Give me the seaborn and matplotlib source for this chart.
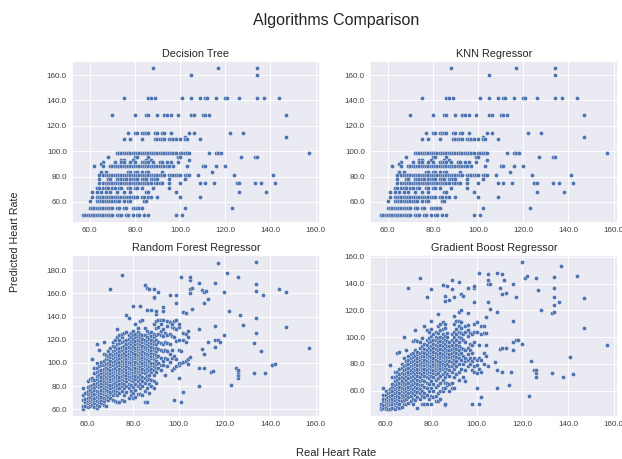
import pandas as pd
import seaborn as sns
import matplotlib
matplotlib.use('Agg')
import matplotlib.pyplot as plt
from matplotlib.ticker import FormatStrFormatter, MultipleLocator

# decision tree / KNN: predictions sit on fixed levels
dt_levels = [165.5, 160.3, 142.0, 128.5, 114.0, 111.3, 110.0, 98.7, 95.5, 93.0, 91.3, 90.0, 88.2,
             83.5, 81.3, 78.0, 74.7, 71.0, 68.0, 63.5, 60.5, 55.5, 49.5]
dt_real = [
    [88, 117, 134],
    [105, 134],
    [75, 86, 87, 89, 101, 105, 109, 111, 112, 116, 120, 121, 126, 134, 137, 144],
    [70, 80, 85, 86, 90, 93, 94, 96, 99, 105, 106, 110, 111, 113, 147],
    [77, 80, 81, 83, 84, 85, 86, 89, 90, 92, 93, 96, 104, 106, 122, 128],
    [102, 147],
    [75, 78, 83, 89, 90, 91, 92, 93, 95, 96, 97, 98, 100, 102, 103, 109],
    [72, 73, 74, 75, 76, 77, 78, 79, 80, 81, 82, 83, 84, 85, 86, 87, 88, 89, 90, 91, 92, 93, 94, 95, 96,
     97, 98, 100, 101, 102, 103, 104, 113, 116, 117, 118, 157],
    [68, 80, 81, 86, 99, 100, 127, 133, 134],
    [74, 75, 79, 85, 87, 104],
    [66, 71, 74, 75, 78, 80, 83, 84, 85, 86, 88, 91, 92, 94, 96, 99],
    [65],
    [62, 66, 69, 70, 71, 72, 73, 74, 75, 76, 77, 78, 79, 80, 81, 82, 83, 84, 85, 86, 87, 88, 89, 90, 91,
     92, 93, 94, 95, 97, 103, 110, 111, 116, 120],
    [65, 67, 77, 78, 80, 81, 83, 85, 86, 92, 114],
    [64, 66, 67, 68, 69, 70, 71, 72, 73, 74, 75, 76, 77, 78, 79, 80, 81, 82, 83, 84, 85, 86, 87, 88, 89,
     90, 91, 92, 93, 95, 96, 97, 98, 99, 100, 102, 103, 104, 108, 124, 141],
    [64, 68, 69, 72, 73, 74, 75, 76, 78, 79, 80, 81, 83, 84, 85, 87, 88, 89, 90, 95, 102],
    [64, 66, 67, 68, 69, 70, 71, 72, 73, 74, 75, 76, 77, 78, 79, 80, 81, 82, 83, 84, 85, 86, 87, 89, 90,
     91, 92, 95, 100, 109, 111, 115, 125, 126, 133, 136, 142],
    [63, 64, 66, 67, 68, 70, 71, 73, 74, 77, 78, 80, 81, 83, 88, 95],
    [61, 63, 65, 67, 69, 72, 75, 78, 85, 86, 98, 126, 138],
    [61, 63, 64, 65, 66, 67, 68, 69, 70, 71, 72, 73, 74, 75, 76, 77, 78, 79, 80, 81, 83, 84, 86, 87, 90,
     100, 109],
    [60, 63, 64, 65, 66, 67, 68, 69, 70, 71, 72, 73, 75, 77, 78, 84, 85],
    [60, 61, 62, 63, 64, 65, 66, 67, 68, 69, 70, 72, 73, 75, 76, 79, 80, 81, 82, 83, 102, 123],
    [57, 58, 59, 60, 61, 62, 63, 64, 65, 66, 67, 68, 69, 70, 72, 73, 74, 76, 77, 79, 81, 82, 84, 86, 98, 101],
]

# random forest, read per real heart rate
rf_real = [58, 59, 60, 61, 62, 63, 64, 65, 66, 67, 68, 69, 70, 71, 72, 73, 74, 75, 76, 77, 78, 79, 80, 81,
           82, 83, 84, 85, 86, 87, 88, 89, 90, 91, 92, 93, 94, 95, 96, 97, 98, 99, 100, 101, 102, 103, 104,
           105, 106, 109, 110, 111, 112, 113, 114, 115, 116, 117, 118, 120, 121, 122, 123, 125, 126, 127,
           128, 133, 134, 136, 137, 138, 141, 142, 144, 147, 157]
rf_pred = [
    [60, 63, 68, 72, 78],
    [63, 66, 69, 74],
    [62, 65, 67, 70, 73, 76, 79, 84],
    [63, 66, 68, 71, 74, 77, 80, 86],
    [64, 67, 69, 72, 75, 78, 81, 85, 87, 103],
    [62, 65, 68, 70, 73, 77, 79, 82, 85, 91, 96],
    [61, 64, 67, 71, 74, 76, 80, 83, 86, 89, 92, 96, 100, 116],
    [63, 66, 70, 72, 75, 79, 81, 84, 88, 90, 93, 97, 111],
    [65, 68, 71, 74, 77, 80, 83, 85, 88, 91, 94, 98, 101],
    [64, 67, 70, 73, 76, 78, 82, 84, 87, 90, 92, 95, 98, 102, 108, 118],
    [63, 69, 72, 75, 77, 80, 83, 86, 88, 91, 94, 96, 99, 103, 107],
    [68, 71, 74, 76, 79, 82, 84, 87, 90, 92, 95, 98, 100, 103, 106, 110],
    [70, 73, 75, 78, 81, 84, 86, 89, 91, 94, 97, 99, 102, 105, 108, 113, 164],
    [68, 72, 76, 79, 82, 85, 87, 90, 92, 95, 98, 101, 104, 107, 110, 115, 118],
    [67, 74, 77, 80, 83, 86, 88, 91, 93, 96, 99, 102, 105, 108, 111, 114, 120],
    [66, 72, 76, 78, 81, 84, 87, 90, 92, 94, 97, 100, 103, 106, 109, 112, 116, 122, 129],
    [66, 74, 78, 82, 85, 88, 91, 93, 95, 98, 101, 104, 107, 110, 113, 117, 120, 124],
    [68, 76, 80, 83, 86, 89, 92, 94, 97, 100, 102, 105, 108, 111, 114, 118, 122, 125, 176],
    [67, 72, 78, 82, 85, 88, 90, 93, 96, 98, 101, 103, 106, 109, 112, 115, 119, 126],
    [75, 80, 84, 87, 90, 92, 95, 97, 100, 102, 104, 107, 110, 113, 116, 120, 127, 141],
    [70, 78, 82, 86, 89, 91, 94, 96, 99, 101, 104, 106, 109, 111, 114, 117, 121, 124, 139],
    [72, 76, 81, 85, 88, 91, 93, 95, 98, 100, 103, 105, 108, 110, 113, 116, 119, 122, 126],
    [70, 74, 79, 84, 87, 90, 92, 95, 97, 99, 102, 104, 107, 109, 112, 115, 118, 121, 124, 128, 149],
    [71, 77, 82, 86, 89, 92, 94, 96, 99, 101, 104, 106, 108, 111, 113, 116, 119, 122, 125, 134],
    [73, 80, 84, 88, 91, 93, 96, 98, 100, 103, 105, 107, 110, 112, 115, 117, 120, 123, 127, 130],
    [73, 78, 82, 86, 90, 93, 95, 97, 100, 102, 104, 107, 109, 112, 114, 116, 119, 122, 125, 136, 149],
    [72, 80, 84, 88, 92, 95, 98, 100, 103, 105, 108, 110, 113, 115, 118, 121, 124, 137],
    [66, 76, 83, 87, 91, 94, 97, 99, 102, 104, 107, 109, 112, 114, 117, 120, 124, 130, 167],
    [66, 78, 85, 89, 93, 96, 98, 101, 103, 106, 108, 111, 113, 116, 119, 122, 128, 146, 165],
    [74, 82, 86, 90, 94, 97, 100, 102, 105, 107, 110, 112, 115, 118, 121, 126, 164],
    [80, 85, 92, 95, 98, 100, 104, 106, 109, 111, 114, 117, 120, 123, 127, 146],
    [78, 84, 90, 94, 97, 100, 103, 106, 108, 111, 113, 116, 119, 122, 125, 134, 156, 157, 164],
    [83, 92, 96, 99, 102, 105, 107, 110, 113, 116, 120, 124, 130, 136, 142, 145],
    [96, 100, 106, 112, 118, 125, 131, 137, 161],
    [94, 98, 104, 111, 117, 124, 128, 134, 137],
    [98, 102, 110, 116, 123, 129, 137, 145, 148],
    [90, 104, 111, 118, 126],
    [97, 103, 110, 117, 124, 132, 136],
    [101, 108, 116, 125, 135, 159],
    [94, 104, 111, 123, 131, 134],
    [96, 106, 122, 130, 136, 68],
    [97, 103, 119, 129, 137, 152, 159],
    [87, 98, 100, 111, 120, 131, 134],
    [66, 100, 110, 174],
    [75, 101, 120, 126, 144],
    [102, 118, 125, 143],
    [99, 103, 122, 128],
    [105, 160, 164, 172, 174],
    [147, 165],
    [80, 96, 129, 169],
    [112, 163],
    [96, 108, 152, 161],
    [162],
    [118, 155],
    [92],
    [93],
    [114, 120, 132, 169],
    [120, 186],
    [118],
    [124, 161],
    [178],
    [145],
    [81],
    [96],
    [87, 90, 92, 94, 174],
    [141],
    [133],
    [91, 117],
    [126, 139, 162, 168, 187],
    [110],
    [159],
    [91],
    [98],
    [99],
    [164],
    [131, 161],
    [113],
]

# gradient boost, read the same way
gb_real = [58, 59, 60, 61, 62, 63, 64, 65, 66, 67, 68, 69, 70, 71, 72, 73, 74, 75, 76, 77, 78, 79, 80, 81,
           82, 83, 84, 85, 86, 87, 88, 89, 90, 91, 92, 93, 94, 95, 96, 97, 98, 99, 100, 101, 102, 103, 104,
           105, 106, 108, 109, 110, 111, 112, 113, 114, 115, 116, 117, 118, 120, 121, 122, 123, 124, 125, 126,
           127, 128, 133, 134, 136, 137, 138, 141, 142, 144, 147, 157]
gb_pred = [
    [46, 48, 50],
    [47, 49, 52, 54, 57, 62],
    [46, 48, 50, 52, 54, 57, 60],
    [46, 49, 51, 53, 55, 58],
    [46, 49, 50, 52, 54, 56, 59, 61, 79],
    [47, 50, 52, 54, 57, 60, 63, 65, 70],
    [46, 49, 51, 53, 55, 58, 61, 64, 67, 70, 74],
    [48, 51, 54, 56, 59, 62, 65, 68, 71, 74, 88],
    [47, 50, 53, 55, 58, 61, 63, 66, 69, 72, 76, 89],
    [48, 52, 55, 57, 60, 62, 65, 67, 70, 73, 77, 80],
    [50, 53, 56, 59, 61, 64, 66, 69, 72, 75, 78, 84, 100],
    [50, 54, 57, 60, 62, 65, 68, 71, 73, 76, 79, 82, 90],
    [51, 55, 58, 61, 63, 66, 69, 72, 74, 77, 80, 83, 86, 137],
    [52, 56, 59, 62, 64, 67, 70, 73, 75, 78, 81, 84, 87],
    [50, 54, 58, 61, 65, 68, 71, 74, 77, 79, 82, 85, 88, 97],
    [53, 57, 60, 63, 66, 69, 72, 75, 78, 80, 83, 86, 90, 98, 105],
    [47, 55, 59, 62, 65, 68, 71, 74, 76, 79, 82, 84, 87, 89, 97],
    [54, 58, 61, 64, 67, 70, 73, 76, 78, 80, 83, 85, 88, 92, 96, 144],
    [50, 56, 60, 64, 68, 72, 75, 77, 79, 81, 84, 86, 89, 93, 99],
    [50, 55, 58, 63, 67, 71, 74, 76, 79, 81, 83, 86, 88, 91, 95, 108],
    [50, 57, 62, 66, 70, 73, 75, 78, 80, 82, 85, 87, 90, 94, 98, 105, 130],
    [54, 60, 65, 69, 72, 74, 77, 79, 81, 84, 86, 89, 92, 96, 99, 104],
    [50, 56, 62, 67, 71, 74, 76, 78, 81, 83, 85, 88, 90, 93, 97, 101, 106, 112, 136],
    [55, 60, 65, 70, 73, 75, 78, 80, 82, 84, 87, 89, 92, 95, 98, 102],
    [52, 56, 63, 68, 72, 75, 77, 79, 81, 83, 86, 88, 91, 94, 98, 100, 104],
    [52, 58, 64, 69, 73, 76, 78, 80, 82, 85, 87, 90, 93, 96, 99, 103, 108, 117],
    [54, 60, 66, 71, 75, 77, 79, 81, 84, 86, 88, 91, 94, 97, 100, 105, 110],
    [60, 62, 68, 72, 76, 78, 80, 83, 85, 87, 90, 93, 96, 99, 102, 106, 111, 139],
    [49, 50, 62, 66, 70, 74, 77, 79, 82, 84, 86, 89, 92, 95, 98, 101, 107, 110, 127, 131],
    [64, 66, 72, 76, 80, 83, 85, 88, 90, 93, 97, 100, 103, 138],
    [60, 65, 71, 75, 78, 82, 85, 87, 90, 93, 96, 128],
    [62, 66, 74, 78, 81, 84, 86, 88, 91, 94, 98, 102, 136, 143],
    [62, 70, 76, 80, 83, 86, 89, 92, 96, 100, 104, 110, 116, 130],
    [72, 78, 82, 85, 88, 91, 94, 98, 102, 106, 112],
    [68, 74, 80, 84, 87, 90, 93, 96, 100, 104, 108, 112, 119, 141],
    [76, 83, 88, 92, 99, 103, 107, 111, 120, 132],
    [70, 80, 86, 91, 98, 102, 131],
    [67, 75, 82, 84, 90, 96, 104, 108],
    [78, 83, 87, 92, 101, 105, 109, 118, 137],
    [80, 84, 90, 95, 103],
    [75, 82, 88, 94, 102, 50],
    [74, 78, 84, 96, 104, 110, 126, 137, 138],
    [62, 73, 79, 83, 104, 111],
    [50, 76, 84, 94, 148],
    [55, 74, 83, 102, 108],
    [80, 88, 103, 108],
    [86, 94, 103, 115],
    [78, 126, 140, 143, 147],
    [121, 140],
    [81],
    [62, 75, 119, 148],
    [91, 137],
    [74, 92, 132, 147],
    [143],
    [133, 92],
    [64],
    [74],
    [90, 96, 112, 140],
    [98, 130],
    [98],
    [95, 156],
    [144],
    [146],
    [56],
    [82],
    [75],
    [70, 73, 75, 144],
    [135],
    [120],
    [73, 118],
    [119, 124, 130, 137, 145],
    [126],
    [153],
    [70],
    [85],
    [72],
    [146],
    [107, 129],
    [94],
]

titles = ['Decision Tree', 'KNN Regressor', 'Random Forest Regressor', 'Gradient Boost Regressor']


def long_table(real, pred):
    # one row per point, from the value rows above
    rows = [(x, y) for x, ys in zip(real, pred) for y in ys]
    return pd.DataFrame(rows, columns=['real', 'pred'])


def level_table(levels, real):
    rows = [(x, y) for y, xs in zip(levels, real) for x in xs]
    return pd.DataFrame(rows, columns=['real', 'pred'])


sns.set_theme(style='darkgrid')
plt.rcParams['font.family'] = ['Liberation Sans', 'DejaVu Sans']

fig, axs = plt.subplots(2, 2, figsize=(6.22, 4.59), dpi=100)
fig.subplots_adjust(left=0.1153, right=0.9936, top=0.8675, bottom=0.0924, wspace=0.2, hspace=0.2)

tables = [level_table(dt_levels, dt_real), level_table(dt_levels, dt_real),
          long_table(rf_real, rf_pred), long_table(gb_real, gb_pred)]

for ax, df, title in zip(axs.flat, tables, titles):
    sns.scatterplot(data=df, x='real', y='pred', ax=ax, s=9, linewidth=0.25, edgecolor='white', color='#4C72B0')
    ax.set(xlabel='', ylabel='')
    ax.set_title(title, fontsize=7.8, color='.15', pad=2.5)
    ax.xaxis.set_major_locator(MultipleLocator(20))
    ax.yaxis.set_major_locator(MultipleLocator(20))
    ax.xaxis.set_major_formatter(FormatStrFormatter('%.1f'))
    ax.yaxis.set_major_formatter(FormatStrFormatter('%.1f'))
    ax.tick_params(labelsize=5.8, pad=3.5, length=0, labelcolor='.25')
    ax.grid(linewidth=0.7)

fig.suptitle('Algorithms Comparison', fontsize=11.5, x=0.54, y=0.955, va='center', color='.15')
fig.text(0.54, 0.013, 'Real Heart Rate', ha='center', va='center', fontsize=8, color='.15')
fig.text(0.0245, 0.473, 'Predicted Heart Rate', rotation=90, ha='center', va='center', fontsize=7.7, color='.15')

fig.savefig('out.png', dpi=100)
